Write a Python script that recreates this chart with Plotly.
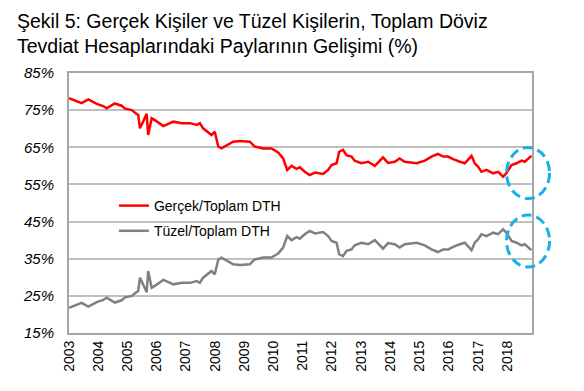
import plotly.graph_objects as go

# fractional years
time_years = [2003.00, 2003.26, 2003.43, 2003.66, 2003.95, 2004.17, 2004.29, 2004.57, 2004.80, 2004.92,
              2005.15, 2005.26, 2005.37, 2005.43, 2005.54, 2005.66, 2005.71, 2005.83, 2005.94, 2006.23,
              2006.40, 2006.57, 2006.86, 2007.14, 2007.37, 2007.48, 2007.59, 2007.77, 2007.88, 2007.99,
              2008.11, 2008.22, 2008.40, 2008.62, 2008.85, 2009.19, 2009.36, 2009.65, 2009.93, 2010.16,
              2010.33, 2010.47, 2010.62, 2010.79, 2010.90, 2011.07, 2011.24, 2011.42, 2011.70, 2011.87,
              2011.99, 2012.16, 2012.25, 2012.38, 2012.50, 2012.67, 2012.78, 2013.01, 2013.24, 2013.47,
              2013.75, 2013.92, 2014.15, 2014.32, 2014.49, 2014.72, 2014.90, 2015.18, 2015.41, 2015.63,
              2015.81, 2015.98, 2016.15, 2016.38, 2016.55, 2016.78, 2016.89, 2017.00, 2017.12, 2017.29,
              2017.52, 2017.69, 2017.86, 2017.97, 2018.15, 2018.32, 2018.49, 2018.60, 2018.83]

gercek = [78.2, 77.5, 76.9, 77.9, 76.7, 76.1, 75.5, 76.8, 76.2, 75.4,
          75.0, 74.3, 73.7, 70.1, 71.9, 74.0, 68.3, 72.8, 72.3, 70.7,
          71.3, 71.9, 71.5, 71.5, 71.0, 71.5, 70.1, 69.1, 68.3, 69.2,
          65.2, 64.7, 65.6, 66.5, 66.7, 66.5, 65.2, 64.7, 64.7, 63.6,
          62.0, 58.9, 60.0, 59.2, 59.6, 58.4, 57.5, 58.2, 57.8, 58.9,
          60.2, 60.7, 63.8, 64.3, 62.9, 62.5, 61.4, 60.7, 61.1, 60.0,
          62.3, 60.8, 61.1, 62.0, 61.1, 60.8, 60.7, 61.4, 62.5, 63.2,
          62.5, 62.5, 61.8, 61.1, 60.7, 62.7, 60.7, 59.8, 58.4, 58.9,
          58.0, 58.4, 57.1, 58.0, 60.2, 60.7, 61.4, 61.1, 62.7]

tuzel = [21.8, 22.5, 23.1, 22.1, 23.3, 23.9, 24.5, 23.2, 23.8, 24.6,
         25.0, 25.7, 26.3, 29.9, 28.1, 26.0, 31.7, 27.2, 27.7, 29.3,
         28.7, 28.1, 28.5, 28.5, 29.0, 28.5, 29.9, 30.9, 31.7, 30.8,
         34.8, 35.3, 34.4, 33.5, 33.3, 33.5, 34.8, 35.3, 35.3, 36.4,
         38.0, 41.1, 40.0, 40.8, 40.4, 41.6, 42.5, 41.8, 42.2, 41.1,
         39.8, 39.3, 36.2, 35.7, 37.1, 37.5, 38.6, 39.3, 38.9, 40.0,
         37.7, 39.2, 38.9, 38.0, 38.9, 39.2, 39.3, 38.6, 37.5, 36.8,
         37.5, 37.5, 38.2, 38.9, 39.3, 37.3, 39.3, 40.2, 41.6, 41.1,
         42.0, 41.6, 42.9, 42.0, 39.8, 39.3, 38.6, 38.9, 37.3]

year_ticks = list(range(2003, 2019))
year_labels = [str(y) for y in year_ticks]
y_ticks = [15, 25, 35, 45, 55, 65, 75, 85]

font_family = "Liberation Sans, Arial, sans-serif"

fig = go.Figure()
fig.add_trace(go.Scatter(x=time_years, y=gercek, mode="lines", name="Gerçek/Toplam DTH",
                         line=dict(color="#ff0000", width=2.5), legendgroup="a"))
fig.add_trace(go.Scatter(x=time_years, y=tuzel, mode="lines", name="Tüzel/Toplam DTH",
                         line=dict(color="#808080", width=2.5), legendgroup="b"))

circle_style = dict(color="#1aafe6", width=3, dash="10px,5px")
fig.add_shape(type="circle", xref="paper", yref="paper", x0=0.945, x1=1.038, y0=0.517, y1=0.7135,
              line=circle_style, layer="above")
fig.add_shape(type="circle", xref="paper", yref="paper", x0=0.945, x1=1.038, y0=0.254, y1=0.454,
              line=circle_style, layer="above")

fig.update_layout(
    width=584, height=391,
    margin=dict(l=69, r=52, t=73, b=58, autoexpand=False),
    paper_bgcolor="white", plot_bgcolor="white",
    font=dict(family=font_family, size=14, color="#000000"),
    title=dict(text="Şekil 5: Gerçek Kişiler ve Tüzel Kişilerin, Toplam Döviz<br>Tevdiat Hesaplarındaki Paylarının Gelişimi (%)",
               x=17/584, xanchor="left", xref="container", y=1 - 28/391, yanchor="top", yref="container",
               font=dict(family=font_family, size=19.5, color="#000000")),
    showlegend=True,
    legend=dict(x=0.097, y=0.55, xanchor="left", yanchor="top", bgcolor="rgba(0,0,0,0)",
                traceorder="grouped", tracegroupgap=4, font=dict(size=14, color="#000000")),
    xaxis=dict(range=[2003, 2018.85], tickmode="array", tickvals=year_ticks, ticktext=year_labels,
               tickangle=-90, showgrid=False, showline=True, linecolor="#a6a6a6", linewidth=2,
               mirror=True, ticks="", zeroline=False, automargin=False,
               tickfont=dict(size=14, color="#000000")),
    yaxis=dict(range=[15, 85], tickmode="array", tickvals=y_ticks, ticktext=[f"<i>{v}%</i>" for v in y_ticks],
               showgrid=True, gridcolor="#bfbfbf", gridwidth=2, showline=True, linecolor="#a6a6a6",
               linewidth=2, mirror=True, ticks="", zeroline=False, automargin=False, ticklabelstandoff=10,
               tickfont=dict(size=15, color="#000000")),
)

fig.write_html("out.html", config={"displayModeBar": False},
               post_script="document.body.style.margin='0';")
